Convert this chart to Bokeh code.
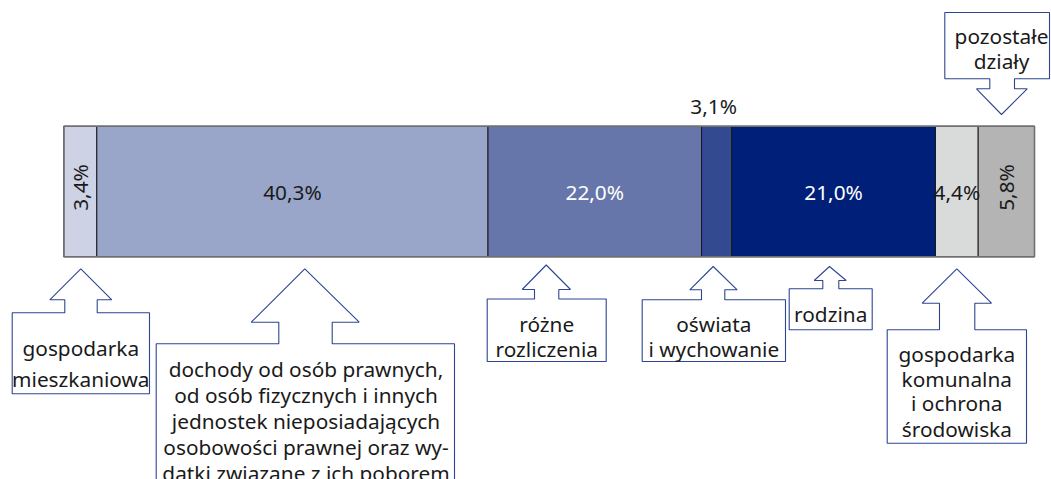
import math
from bokeh.plotting import figure
from bokeh.models import Range1d, ColumnDataSource
from bokeh.core.properties import value
from bokeh.embed import file_html
from bokeh.resources import INLINE

# ---------------- data ----------------
categories = [
    "gospodarka mieszkaniowa",
    "dochody od osób prawnych, od osób fizycznych i innych jednostek nieposiadających osobowości prawnej oraz wydatki związane z ich poborem",
    "różne rozliczenia",
    "oświata i wychowanie",
    "rodzina",
    "gospodarka komunalna i ochrona środowiska",
    "pozostałe działy",
]
shares = [3.4, 40.3, 22.0, 3.1, 21.0, 4.4, 5.8]

callout_lines = [
    ["gospodarka", "mieszkaniowa"],
    ["dochody od osób prawnych,", "od osób fizycznych i innych", "jednostek nieposiadających",
     "osobowości prawnej oraz wy-", "datki związane z ich poborem"],
    ["różne", "rozliczenia"],
    ["oświata", "i wychowanie"],
    ["rodzina"],
    ["gospodarka", "komunalna", "i ochrona", "środowiska"],
    ["pozostałe", "działy"],
]

# ---------------- styles / layout ----------------
seg_colors = ["#CDD2E5", "#99A6C9", "#6676AA", "#334990", "#001F78", "#D9DBDA", "#B3B4B3"]
label_colors = ["#1a1a1a", "#1a1a1a", "#ffffff", "#1a1a1a", "#ffffff", "#1a1a1a", "#1a1a1a"]
label_mode = ["rot", "h", "h", "above", "h", "h", "rot"]
FONT = value("Noto Sans")
FS = "20.8px"
SHIFT = -8.0   # correction between measured baseline and rendered baseline

W, H = 1051, 479
X0_PX, PPU = 63.3, 9.707          # pixel of 0 % and pixels per percent point
BAR_TOP, BAR_BOT = 125.7, 256.3


def X(px):
    return (px - X0_PX) / PPU


# callout geometry in page pixels: box(l, r, t, b), stem(l, r), head(l, r, y), tip(x, y), baselines, text x
callouts = [
    dict(box=(11.7, 149.0, 312.3, 393.3), stem=(64.3, 96.7), head=(49.3, 111.3, 299.3), tip=(80.3, 268.3),
         base=[355, 386.5], tx=80.3),
    dict(box=(155.7, 454.0, 343.3, 520.0), stem=(278.3, 331.7), head=(250.7, 358.7, 321.7), tip=(304.3, 268.3),
         base=[376.7, 402.7, 428.5, 454.3, 480.3], tx=305.5),
    dict(box=(486.7, 605.7, 298.5, 361.0), stem=(534.0, 558.3), head=(521.7, 570.0, 289.0), tip=(545.7, 264.5),
         base=[331, 356], tx=546.2),
    dict(box=(641.7, 785.0, 299.3, 361.0), stem=(701.0, 724.3), head=(689.3, 736.7, 289.3), tip=(712.7, 266.0),
         base=[331.5, 356.5], tx=713.3),
    dict(box=(788.7, 871.7, 288.3, 329.3), stem=(822.3, 838.3), head=(813.7, 845.7, 280.0), tip=(829.0, 266.0),
         base=[321.5], tx=830.2),
    dict(box=(886.7, 1026.0, 329.3, 442.7), stem=(939.0, 974.3), head=(921.7, 991.0, 302.7), tip=(956.3, 268.3),
         base=[361.5, 386, 410.5, 436.3], tx=956.3),
    # pointing down
    dict(box=(944.3, 1049.0, 78.3, 12.0), stem=(989.3, 1014.0), head=(976.0, 1026.7, 88.3), tip=(1001.0, 114.0),
         base=[43.3, 68.3], tx=1001.0),
]

p = figure(width=W, height=H, output_backend="svg", toolbar_location=None,
           x_range=Range1d(X(0), X(W)), y_range=Range1d(H, 0),
           x_axis_location=None, y_axis_location=None, min_border=0)
p.grid.visible = False
p.outline_line_color = None
p.background_fill_color = "white"

# ---------------- stacked bar ----------------
lefts, rights = [], []
acc = 0.0
for v in shares:
    lefts.append(acc)
    acc += v
    rights.append(acc)

src = ColumnDataSource(dict(left=lefts, right=rights, color=seg_colors, cat=categories))
p.hbar(y=(BAR_TOP + BAR_BOT) / 2, height=BAR_BOT - BAR_TOP, left="left", right="right",
       fill_color="color", line_color="#1a1a1a", line_width=1, source=src)
p.quad(left=lefts[0], right=rights[-1], top=BAR_TOP, bottom=BAR_BOT,
       fill_color=None, line_color="#707070", line_width=1.6)

# ---------------- segment labels ----------------
for i, v in enumerate(shares):
    txt = f"{v:.1f}".replace(".", ",") + "%"
    cx = (lefts[i] + rights[i]) / 2
    mode = label_mode[i]
    if mode == "h":
        p.text(x=[cx], y=[199.3 + SHIFT], text=[txt], text_font=FONT, text_font_size=FS,
               text_align="center", text_baseline="alphabetic", text_color=label_colors[i])
    elif mode == "above":
        p.text(x=[cx], y=[113.3 + SHIFT], text=[txt], text_font=FONT, text_font_size=FS, x_offset=-3,
               text_align="center", text_baseline="alphabetic", text_color=label_colors[i])
    else:
        p.text(x=[cx], y=[(BAR_TOP + BAR_BOT) / 2 - 4], text=[txt], text_font=FONT, text_font_size=FS,
               x_offset=8 + SHIFT, angle=math.pi / 2,
               text_align="center", text_baseline="alphabetic", text_color=label_colors[i])

# ---------------- callouts ----------------
xs, ys = [], []
for c in callouts:
    bl, br, bt, bb = c["box"]
    sl, sr = c["stem"]
    hl, hr, hy = c["head"]
    tx, ty = c["tip"]
    px = [bl, bl, sl, sl, hl, tx, hr, sr, sr, br, br]
    py = [bb, bt, bt, hy, hy, ty, hy, hy, bt, bt, bb]
    xs.append([X(q) for q in px])
    ys.append(py)
p.patches(xs=xs, ys=ys, fill_color="white", line_color="#2E4593", line_width=1.1)

for c, lines in zip(callouts, callout_lines):
    p.text(x=[X(c["tx"])] * len(lines), y=[b + SHIFT for b in c["base"]], text=lines,
           text_font=FONT, text_font_size=FS,
           text_align="center", text_baseline="alphabetic", text_color="#1a1a1a")

open("out.html", "w").write(file_html(p, INLINE))
